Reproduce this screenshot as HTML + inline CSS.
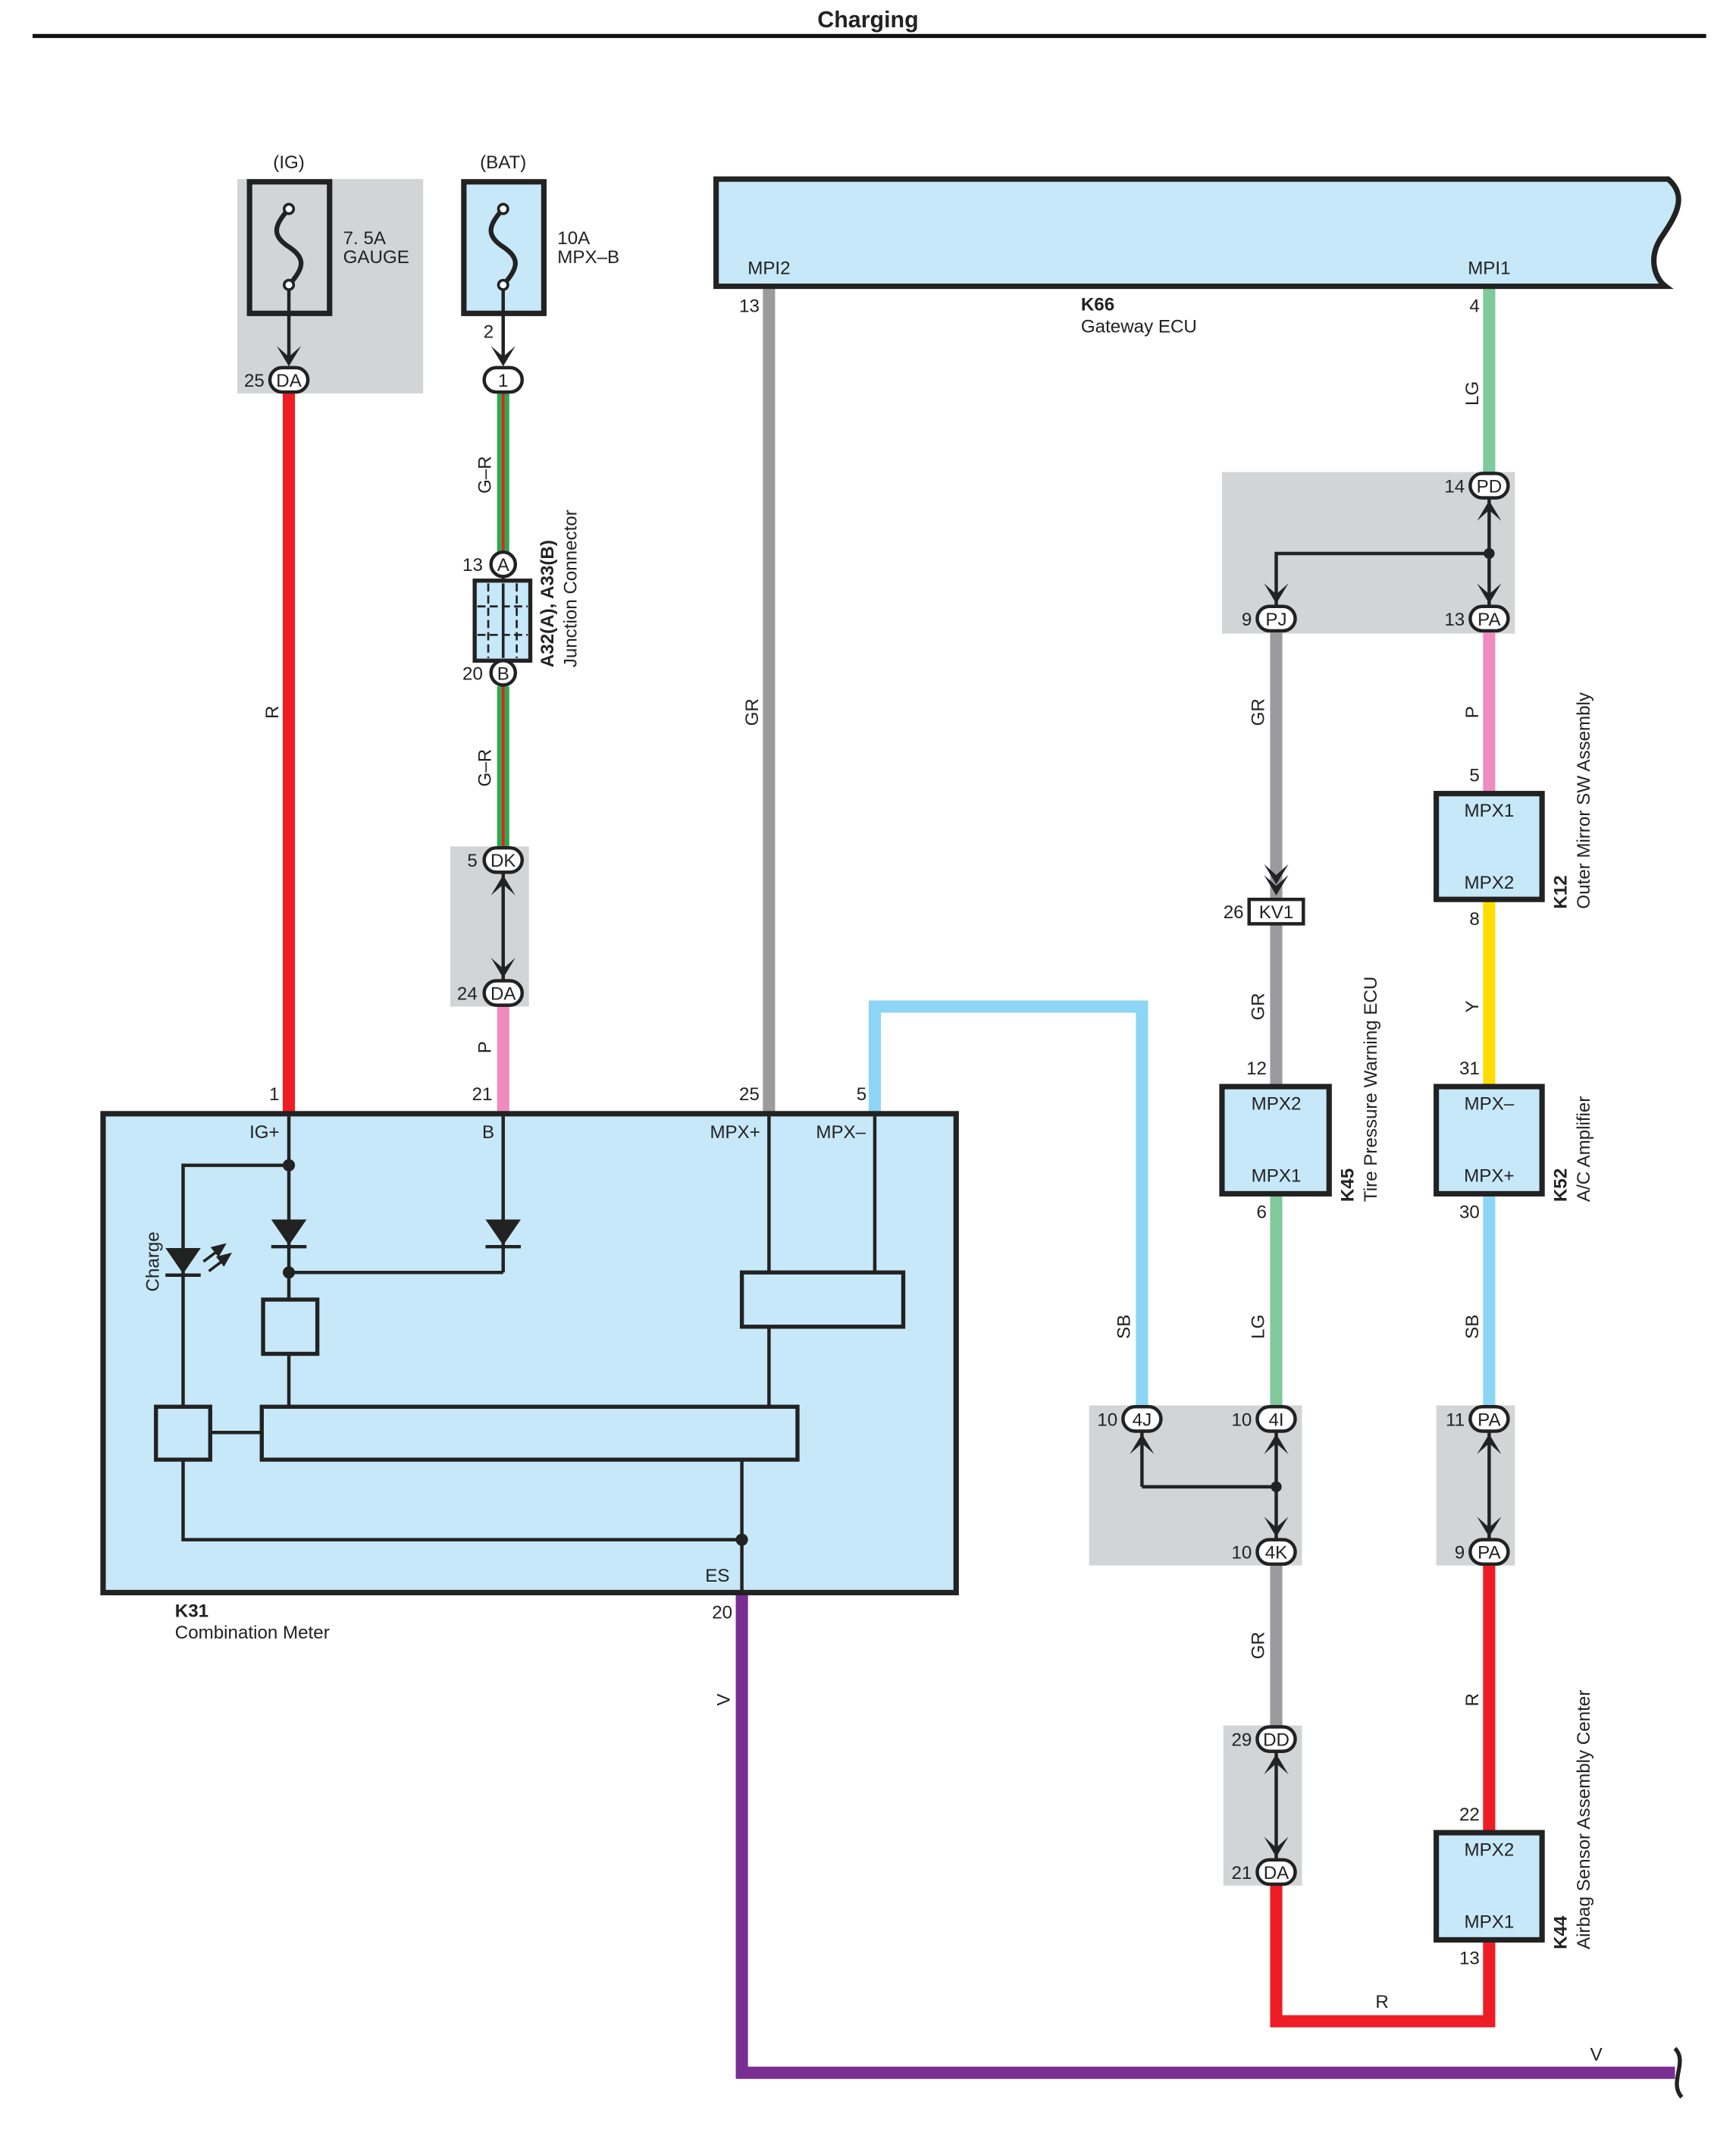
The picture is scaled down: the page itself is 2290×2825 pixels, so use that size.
<!DOCTYPE html>
<html><head><meta charset="utf-8"><style>
html,body{margin:0;padding:0;background:#fff}
svg{display:block}
text{font-family:"Liberation Sans",sans-serif;font-size:13.5px;fill:#222}
.b{font-weight:bold}
.c{text-anchor:middle}
.e{text-anchor:end}
</style></head><body>
<svg width="2290" height="2825" viewBox="0 0 1280 1579" xmlns="http://www.w3.org/2000/svg">
<defs>
<path id="ad" d="M-9,-15 L0,-7 L9,-15 L0,0 Z" fill="#222"/>
<path id="au" d="M-9,15 L0,7 L9,15 L0,0 Z" fill="#222"/>
<path id="fu" d="M0,-28 C-12,-15 -12,-8 0,0 C12,8 12,15 0,28" fill="none" stroke="#222" stroke-width="3.5"/>
</defs>
<text x="640" y="20" class="b c" style="font-size:17px">Charging</text>
<rect x="24" y="25" width="1234" height="3" fill="#111"/>

<g fill="#d3d4d6">
<rect x="175" y="132" width="137" height="158"/>
<rect x="332" y="624" width="58" height="118"/>
<rect x="901" y="348" width="216" height="119"/>
<rect x="803" y="1036" width="157" height="118"/>
<rect x="1059" y="1036" width="58" height="118"/>
<rect x="902" y="1272" width="58" height="118"/>
</g>

<g fill="none" stroke-width="9">
<line x1="213" y1="290" x2="213" y2="820" stroke="#ee1c25"/>
<line x1="371" y1="289" x2="371" y2="408" stroke="#2fa84f"/>
<line x1="371" y1="506" x2="371" y2="625" stroke="#2fa84f"/>
<line x1="371" y1="742" x2="371" y2="820" stroke="#f08bbf"/>
<line x1="567" y1="211" x2="567" y2="820" stroke="#9b9b9e"/>
<polyline points="645,820 645,742 842,742 842,1036" stroke="#8dd5f5"/>
<line x1="1098" y1="211" x2="1098" y2="349" stroke="#7fc99a"/>
<line x1="941" y1="466" x2="941" y2="800" stroke="#9b9b9e"/>
<line x1="941" y1="880" x2="941" y2="1036" stroke="#7fc99a"/>
<line x1="1098" y1="466" x2="1098" y2="584" stroke="#f08bbf"/>
<line x1="1098" y1="663" x2="1098" y2="800" stroke="#ffdd00"/>
<line x1="1098" y1="880" x2="1098" y2="1036" stroke="#8dd5f5"/>
<line x1="941" y1="1154" x2="941" y2="1272" stroke="#9b9b9e"/>
<line x1="1098" y1="1154" x2="1098" y2="1350" stroke="#ee1c25"/>
<polyline points="941,1390 941,1490 1098,1490 1098,1430" stroke="#ee1c25"/>
<polyline points="547,1175 547,1528 1235,1528" stroke="#7a2e92"/>
</g>
<g stroke="#ee1c25" stroke-width="2">
<line x1="371" y1="289" x2="371" y2="408"/><line x1="371" y1="506" x2="371" y2="625"/>
</g>

<text x="213" y="124" class="c">(IG)</text>
<rect x="184" y="134" width="59" height="97" fill="none" stroke="#222" stroke-width="4"/>
<use href="#fu" x="213" y="182"/>
<circle cx="213" cy="154" r="3.5" fill="#fff" stroke="#222" stroke-width="2"/>
<circle cx="213" cy="210" r="3.5" fill="#fff" stroke="#222" stroke-width="2"/>
<line x1="213" y1="214" x2="213" y2="268" stroke="#222" stroke-width="2.5"/>
<use href="#ad" x="213" y="270"/>
<text x="253" y="180">7. 5A</text><text x="253" y="194">GAUGE</text>

<text x="371" y="124" class="c">(BAT)</text>
<rect x="342" y="134" width="59" height="97" fill="#c6e8f8" stroke="#222" stroke-width="4"/>
<use href="#fu" x="371" y="182"/>
<circle cx="371" cy="154" r="3.5" fill="#fff" stroke="#222" stroke-width="2"/>
<circle cx="371" cy="210" r="3.5" fill="#fff" stroke="#222" stroke-width="2"/>
<line x1="371" y1="214" x2="371" y2="268" stroke="#222" stroke-width="2.5"/>
<use href="#ad" x="371" y="270"/>
<text x="411" y="180">10A</text><text x="411" y="194">MPX–B</text>
<text x="364" y="249" class="e">2</text>

<rect x="350" y="428" width="41" height="59" fill="#c6e8f8" stroke="#222" stroke-width="3"/>
<line x1="360" y1="430" x2="360" y2="485" stroke="#222" stroke-width="1.5" stroke-dasharray="6,3"/>
<line x1="371" y1="430" x2="371" y2="485" stroke="#222" stroke-width="2"/>
<line x1="381" y1="430" x2="381" y2="485" stroke="#222" stroke-width="1.5" stroke-dasharray="6,3"/>
<line x1="352" y1="447" x2="389" y2="447" stroke="#222" stroke-width="1.5" stroke-dasharray="6,3"/>
<line x1="352" y1="468" x2="389" y2="468" stroke="#222" stroke-width="1.5" stroke-dasharray="6,3"/>
<circle cx="371" cy="416" r="9" fill="#fff" stroke="#222" stroke-width="2.5"/><text x="371" y="421" class="c">A</text>
<circle cx="371" cy="496" r="9" fill="#fff" stroke="#222" stroke-width="2.5"/><text x="371" y="501" class="c">B</text>
<text x="356" y="421" class="e">13</text><text x="356" y="501" class="e">20</text>
<line x1="371" y1="425" x2="371" y2="428" stroke="#222" stroke-width="2"/>
<text transform="translate(408,492) rotate(-90)" class="b">A32(A), A33(B)</text>
<text transform="translate(425,492) rotate(-90)">Junction Connector</text>

<line x1="371" y1="644" x2="371" y2="722" stroke="#222" stroke-width="2.5"/>
<use href="#au" x="371" y="645"/><use href="#ad" x="371" y="721"/>
<line x1="941" y1="1056" x2="941" y2="1134" stroke="#222" stroke-width="2.5"/>
<line x1="842" y1="1056" x2="842" y2="1096" stroke="#222" stroke-width="2.5"/>
<line x1="842" y1="1096" x2="941" y2="1096" stroke="#222" stroke-width="2.5"/>
<circle cx="941" cy="1096" r="4" fill="#222"/>
<use href="#au" x="941" y="1057"/><use href="#au" x="842" y="1057"/><use href="#ad" x="941" y="1133"/>
<line x1="1098" y1="1056" x2="1098" y2="1134" stroke="#222" stroke-width="2.5"/>
<use href="#au" x="1098" y="1057"/><use href="#ad" x="1098" y="1133"/>
<line x1="941" y1="1292" x2="941" y2="1370" stroke="#222" stroke-width="2.5"/>
<use href="#au" x="941" y="1293"/><use href="#ad" x="941" y="1369"/>
<line x1="1098" y1="368" x2="1098" y2="446" stroke="#222" stroke-width="2.5"/>
<polyline points="1098,408 941,408 941,446" fill="none" stroke="#222" stroke-width="2.5"/>
<circle cx="1098" cy="408" r="4" fill="#222"/>
<use href="#au" x="1098" y="369"/><use href="#ad" x="1098" y="445"/><use href="#ad" x="941" y="445"/>
<use href="#ad" x="941" y="652"/><use href="#ad" x="941" y="660"/>

<g fill="#fff" stroke="#222" stroke-width="2.5">
<rect x="199" y="271" width="28" height="18" rx="9"/>
<rect x="357" y="271" width="28" height="18" rx="9"/>
<rect x="357" y="625" width="28" height="18" rx="9"/>
<rect x="357" y="723" width="28" height="18" rx="9"/>
<rect x="1084" y="349" width="28" height="18" rx="9"/>
<rect x="927" y="447" width="28" height="18" rx="9"/>
<rect x="1084" y="447" width="28" height="18" rx="9"/>
<rect x="828" y="1037" width="28" height="18" rx="9"/>
<rect x="927" y="1037" width="28" height="18" rx="9"/>
<rect x="927" y="1135" width="28" height="18" rx="9"/>
<rect x="1084" y="1037" width="28" height="18" rx="9"/>
<rect x="1084" y="1135" width="28" height="18" rx="9"/>
<rect x="927" y="1273" width="28" height="18" rx="9"/>
<rect x="927" y="1371" width="28" height="18" rx="9"/>
<rect x="921" y="663" width="40" height="18"/>
</g>
<g class="c">
<text x="213" y="285" class="c">DA</text><text x="371" y="285" class="c">1</text>
<text x="371" y="639" class="c">DK</text><text x="371" y="737" class="c">DA</text>
<text x="1098" y="363" class="c">PD</text><text x="941" y="461" class="c">PJ</text><text x="1098" y="461" class="c">PA</text>
<text x="842" y="1051" class="c">4J</text><text x="941" y="1051" class="c">4I</text><text x="941" y="1149" class="c">4K</text>
<text x="1098" y="1051" class="c">PA</text><text x="1098" y="1149" class="c">PA</text>
<text x="941" y="1287" class="c">DD</text><text x="941" y="1385" class="c">DA</text>
<text x="941" y="677" class="c">KV1</text>
</g>
<text x="195" y="285" class="e">25</text><text x="352" y="639" class="e">5</text><text x="352" y="737" class="e">24</text>
<text x="1080" y="363" class="e">14</text><text x="923" y="461" class="e">9</text><text x="1080" y="461" class="e">13</text>
<text x="824" y="1051" class="e">10</text><text x="923" y="1051" class="e">10</text><text x="923" y="1149" class="e">10</text>
<text x="1080" y="1051" class="e">11</text><text x="1080" y="1149" class="e">9</text>
<text x="923" y="1287" class="e">29</text><text x="923" y="1385" class="e">21</text><text x="917" y="677" class="e">26</text>

<path d="M528,132 L1230,132 C1245,145 1235,160 1225,175 C1215,190 1220,205 1228,211 L528,211 Z" fill="#c6e8f8" stroke="#222" stroke-width="4"/>
<text x="567" y="202" class="c">MPI2</text><text x="1098" y="202" class="c">MPI1</text>
<text x="560" y="230" class="e">13</text><text x="1091" y="230" class="e">4</text>
<text x="797" y="229" class="b">K66</text><text x="797" y="245">Gateway ECU</text>

<g fill="#c6e8f8" stroke="#222" stroke-width="4">
<rect x="901" y="801" width="79" height="79"/>
<rect x="1059" y="585" width="78" height="78"/>
<rect x="1059" y="801" width="78" height="79"/>
<rect x="1059" y="1351" width="78" height="79"/>
</g>
<text x="941" y="818" class="c">MPX2</text><text x="941" y="871" class="c">MPX1</text>
<text x="1098" y="602" class="c">MPX1</text><text x="1098" y="655" class="c">MPX2</text>
<text x="1098" y="818" class="c">MPX–</text><text x="1098" y="871" class="c">MPX+</text>
<text x="1098" y="1368" class="c">MPX2</text><text x="1098" y="1421" class="c">MPX1</text>
<text x="934" y="792" class="e">12</text><text x="934" y="898" class="e">6</text>
<text x="1091" y="576" class="e">5</text><text x="1091" y="682" class="e">8</text>
<text x="1091" y="792" class="e">31</text><text x="1091" y="898" class="e">30</text>
<text x="1091" y="1342" class="e">22</text><text x="1091" y="1448" class="e">13</text>
<text transform="translate(998,886) rotate(-90)" class="b">K45</text>
<text transform="translate(1015,886) rotate(-90)">Tire Pressure Warning ECU</text>
<text transform="translate(1155,670) rotate(-90)" class="b">K12</text>
<text transform="translate(1172,670) rotate(-90)">Outer Mirror SW Assembly</text>
<text transform="translate(1155,886) rotate(-90)" class="b">K52</text>
<text transform="translate(1172,886) rotate(-90)">A/C Amplifier</text>
<text transform="translate(1155,1437) rotate(-90)" class="b">K44</text>
<text transform="translate(1172,1437) rotate(-90)">Airbag Sensor Assembly Center</text>

<g>
<text transform="translate(205,525) rotate(-90)" class="c">R</text>
<text transform="translate(362,350) rotate(-90)" class="c">G–R</text>
<text transform="translate(362,566) rotate(-90)" class="c">G–R</text>
<text transform="translate(362,772) rotate(-90)" class="c">P</text>
<text transform="translate(559,525) rotate(-90)" class="c">GR</text>
<text transform="translate(833,978) rotate(-90)" class="c">SB</text>
<text transform="translate(932,525) rotate(-90)" class="c">GR</text>
<text transform="translate(932,742) rotate(-90)" class="c">GR</text>
<text transform="translate(932,978) rotate(-90)" class="c">LG</text>
<text transform="translate(932,1213) rotate(-90)" class="c">GR</text>
<text transform="translate(1090,290) rotate(-90)" class="c">LG</text>
<text transform="translate(1090,525) rotate(-90)" class="c">P</text>
<text transform="translate(1090,742) rotate(-90)" class="c">Y</text>
<text transform="translate(1090,978) rotate(-90)" class="c">SB</text>
<text transform="translate(1090,1253) rotate(-90)" class="c">R</text>
<text transform="translate(538,1253) rotate(-90)" class="c">V</text>
<text x="1019" y="1480" class="c">R</text><text x="1177" y="1519" class="c">V</text>
</g>
<path d="M1235,1510 C1245,1520 1230,1535 1240,1546" fill="none" stroke="#222" stroke-width="3"/>

<rect x="76" y="821" width="629" height="353" fill="#c6e8f8" stroke="#222" stroke-width="4"/>
<text x="206" y="811" class="e">1</text><text x="363" y="811" class="e">21</text><text x="560" y="811" class="e">25</text><text x="639" y="811" class="e">5</text>
<text x="540" y="1193" class="e">20</text>
<text x="195" y="839" class="c">IG+</text><text x="360" y="839" class="c">B</text>
<text x="542" y="839" class="c">MPX+</text><text x="620" y="839" class="c">MPX–</text>
<text x="529" y="1166" class="c">ES</text>
<text x="129" y="1192" class="b">K31</text><text x="129" y="1208">Combination Meter</text>
<g fill="none" stroke="#222" stroke-width="2.5">
<line x1="213" y1="823" x2="213" y2="958"/>
<line x1="213" y1="998" x2="213" y2="1037"/>
<polyline points="213,859 135,859 135,1037"/>
<line x1="371" y1="823" x2="371" y2="938"/>
<line x1="213" y1="938" x2="371" y2="938"/>
<line x1="567" y1="823" x2="567" y2="938"/>
<line x1="645" y1="823" x2="645" y2="938"/>
<line x1="567" y1="978" x2="567" y2="1037"/>
<line x1="155" y1="1056" x2="193" y2="1056"/>
<polyline points="135,1076 135,1135 547,1135"/>
<line x1="547" y1="1076" x2="547" y2="1174"/>
<line x1="200" y1="919" x2="226" y2="919"/>
<line x1="358" y1="919" x2="384" y2="919"/>
<line x1="122" y1="940" x2="148" y2="940"/>
</g>
<g fill="#222">
<path d="M200,899 L226,899 L213,918 Z"/>
<path d="M358,899 L384,899 L371,918 Z"/>
<path d="M122,920 L148,920 L135,939 Z"/>
<circle cx="213" cy="859" r="4.5"/><circle cx="213" cy="938" r="4.5"/><circle cx="547" cy="1135" r="4.5"/>
</g>
<g stroke="#222" stroke-width="2" fill="#222">
<line x1="150" y1="930" x2="162" y2="921"/><path d="M165,918 L157,920 L161,925 Z"/>
<line x1="154" y1="937" x2="166" y2="928"/><path d="M169,925 L161,927 L165,932 Z"/>
</g>
<text transform="translate(117,930) rotate(-90)" class="c">Charge</text>
<g fill="#c6e8f8" stroke="#222" stroke-width="3">
<rect x="194" y="958" width="40" height="40"/>
<rect x="547" y="938" width="119" height="40"/>
<rect x="115" y="1037" width="40" height="39"/>
<rect x="193" y="1037" width="395" height="39"/>
</g>
</svg>
</body></html>
